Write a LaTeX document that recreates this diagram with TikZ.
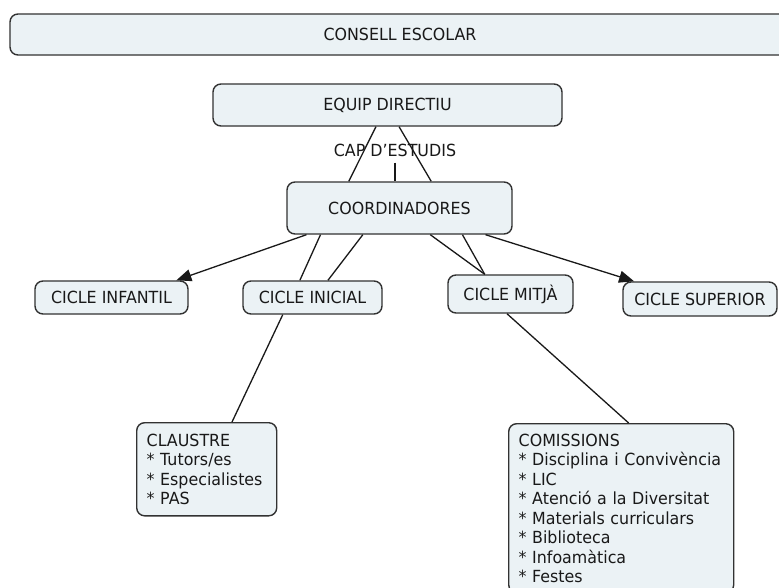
\documentclass[tikz,border=0pt]{standalone}
\usepackage{fontspec}
\setmainfont[FakeStretch=0.95]{DejaVu Sans}
\usetikzlibrary{arrows.meta,calc}
\definecolor{boxfill}{RGB}{235,242,245}
\definecolor{boxline}{RGB}{50,50,50}
\definecolor{linkc}{RGB}{25,25,25}
\definecolor{txt}{RGB}{25,25,25}
\begin{document}
\begin{tikzpicture}[x=1pt,y=-1pt,
  font=\fontsize{16.7}{19.5}\selectfont,
  concept/.style={draw=boxline, fill=boxfill, line width=1.4pt, rounded corners=8pt, inner sep=0pt, text=txt},
  listbox/.style={concept, anchor=north west, align=left, inner xsep=10pt},
  link/.style={draw=linkc, line width=1.3pt},
  arr/.style={link, -{Triangle[length=15pt,width=12pt]}}]
\useasboundingbox[fill=white] (0,0) rectangle (779,587);

% concepts
\node[concept, minimum width=780pt, minimum height=41pt] (consell) at (400,34.5) {CONSELL ESCOLAR};
\node[concept, minimum width=349pt, minimum height=42pt] (equip) at (387.5,105) {EQUIP DIRECTIU};
\node[text=txt, inner sep=6pt] (cap) at (395,150) {CAP D'ESTUDIS};
\node[concept, minimum width=225pt, minimum height=52pt] (coord) at (399.5,208) {COORDINADORES};
\node[concept, minimum width=153pt, minimum height=33pt] (inf) at (111.5,297.5) {CICLE INFANTIL};
\node[concept, minimum width=139pt, minimum height=33pt] (ini) at (312.5,297.5) {CICLE INICIAL};
\node[concept, minimum width=125pt, minimum height=38pt] (mit) at (510.5,294) {CICLE MITJÀ};
\node[concept, minimum width=154pt, minimum height=34pt] (sup) at (700,299) {CICLE SUPERIOR};
\node[listbox, text width=120pt, inner ysep=11pt] (cla) at (136,422)
  {CLAUSTRE\\{*} Tutors/es\\{*} Especialistes\\{*} PAS};
\node[listbox, text width=205pt, inner ysep=10pt] (com) at (508,423)
  {COMISSIONS\\{*} Disciplina i Convivència\\{*} LIC\\{*} Atenció a la Diversitat\\{*} Materials curriculars\\{*} Biblioteca\\{*} Infoamàtica\\{*} Festes};

% connectors
\draw[link] ($(equip.south west)!0.467!(equip.south east)$) -- ($(coord.north west)!0.276!(coord.north east)$);
\draw[link] ($(equip.south west)!0.533!(equip.south east)$) -- ($(coord.north west)!0.64!(coord.north east)$);
\draw[link] (cap.south) -- (cap.south |- coord.north);

\draw[arr] ($(coord.south west)!0.089!(coord.south east)$) -- ($(inf.north west)!0.92!(inf.north east)$);
\draw[link] ($(coord.south west)!0.151!(coord.south east)$) -- ($(ini.north west)!0.41!(ini.north east)$);
\draw[link] ($(coord.south west)!0.338!(coord.south east)$) -- ($(ini.north west)!0.61!(ini.north east)$);
\draw[link] ($(coord.south west)!0.636!(coord.south east)$) -- ($(mit.north west)!0.296!(mit.north east)$);
\draw[link] ($(coord.south west)!0.778!(coord.south east)$) -- ($(mit.north west)!0.296!(mit.north east)$);
\draw[arr] ($(coord.south west)!0.88!(coord.south east)$) -- ($(sup.north west)!0.076!(sup.north east)$);

\draw[link] ($(ini.south west)!0.288!(ini.south east)$) -- ($(cla.north west)!0.679!(cla.north east)$);
\draw[link] ($(mit.south west)!0.472!(mit.south east)$) -- ($(com.north west)!0.533!(com.north east)$);
\end{tikzpicture}
\end{document}
